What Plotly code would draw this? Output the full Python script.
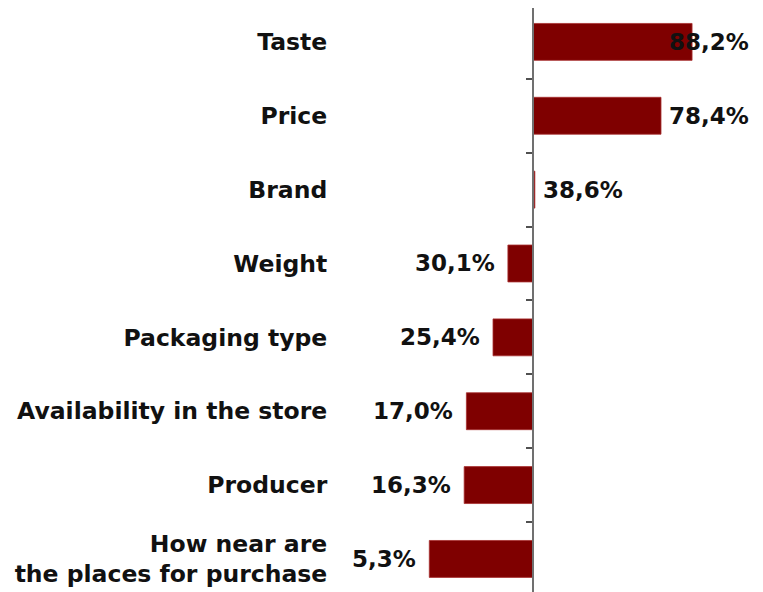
import plotly.graph_objects as go

# ---- data ----
categories = ["Taste", "Price", "Brand", "Weight", "Packaging type",
              "Availability in the store", "Producer",
              "How near are<br>the places for purchase"]
values = [88.2, 78.4, 38.6, 30.1, 25.4, 17.0, 16.3, 5.3]
value_labels = ["88,2%", "78,4%", "38,6%", "30,1%", "25,4%", "17,0%", "16,3%", "5,3%"]
crossing = 38.0          # value at which the vertical axis crosses

# ---- layout constants ----
W, H = 763, 592
ML, MR, MT, MB = 392, 0, 0, 0
x_range = [-3.94, 113.1]
y_range = [7.556, -0.459]
label_x_max = 78.3       # labels can't start further right than this (kept inside chart)

fig = go.Figure()
fig.add_trace(go.Bar(
    orientation="h",
    y=categories,
    x=[v - crossing for v in values],
    base=crossing,
    width=0.5,
    marker=dict(color="#7F0000", line=dict(color="#a83030", width=0.8)),
    hoverinfo="skip",
))

annotations = []
for cat, v, lab in zip(categories, values, value_labels):
    if v >= crossing:
        annotations.append(dict(x=min(v, label_x_max), y=cat, xref="x", yref="y",
                                text=lab, showarrow=False, xanchor="left",
                                yanchor="middle", xshift=6))
    else:
        annotations.append(dict(x=v, y=cat, xref="x", yref="y",
                                text=lab, showarrow=False, xanchor="right",
                                yanchor="middle", xshift=-11))

axis_pos = (crossing - x_range[0]) / (x_range[1] - x_range[0])

fig.update_layout(
    width=W, height=H,
    margin=dict(l=ML, r=MR, t=MT, b=MB, autoexpand=False),
    paper_bgcolor="white", plot_bgcolor="white",
    showlegend=False,
    font=dict(family="DejaVu Sans", color="#111111"),
    annotations=[dict(a, font=dict(family="DejaVu Sans", size=23, color="#111111",
                                   weight="bold")) for a in annotations],
    xaxis=dict(range=x_range, visible=False, fixedrange=True),
    yaxis=dict(
        type="category",
        categoryorder="array", categoryarray=categories,
        range=y_range,
        anchor="free", position=axis_pos,
        showline=True, linecolor="#707070", linewidth=2,
        ticks="outside", tickson="boundaries", ticklen=6,
        tickcolor="#505050", tickwidth=2,
        showgrid=False, zeroline=False,
        tickfont=dict(family="DejaVu Sans", size=23.5, color="#111111", weight="bold"),
        ticklabelstandoff=200,
        automargin=False,
    ),
)

fig.write_html("out.html")
